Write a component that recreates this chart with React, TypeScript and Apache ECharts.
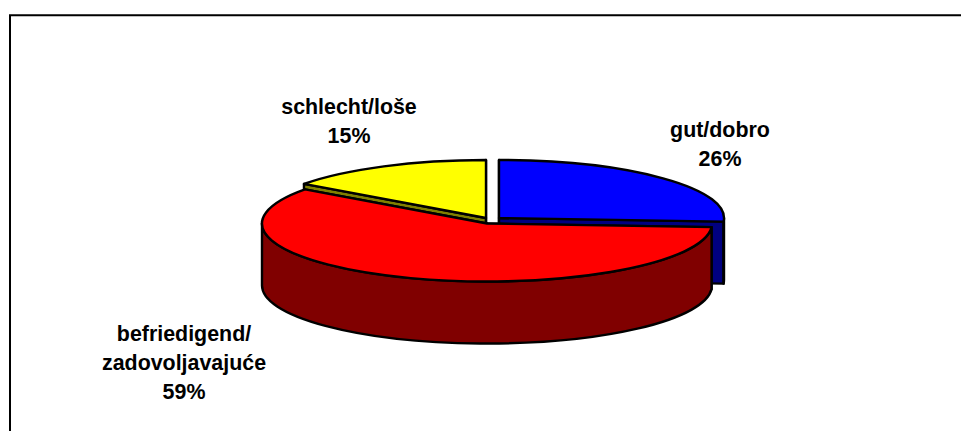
import React, { useEffect, useRef } from "react";
import * as echarts from "echarts";

const categories = ["gut/dobro", "befriedigend/\nzadovoljavajuće", "schlecht/loše"];
const shares = [26, 59, 15];
const topColors = ["#0000ff", "#ff0000", "#ffff00"];
const wallColors = ["#000080", "#800000", "#808000"];

// layout of the projected pie
const RX = 225;
const RY = 58;
const DEPTH = 62;
const CENTERS = [
  [499, 218],
  [487, 223.5],
  [486, 218],
];
const LABEL_POS = [
  [720, 144.5],
  [184, 363],
  [349, 121],
];
const DRAW_ORDER = [0, 2, 1];

function angleStart(idx: number) {
  const total = shares.reduce((a, b) => a + b, 0);
  let s = 0;
  for (let i = 0; i < idx; i++) s += shares[i];
  return (s / total) * Math.PI * 2;
}
const pt = (c: number[], a: number, dy = 0) => [
  c[0] + RX * Math.sin(a),
  c[1] - RY * Math.cos(a) + dy,
];
const f = (n: number) => n.toFixed(2);

function arcPath(c: number[], a0: number, a1: number, dy: number) {
  // clockwise on screen from a0 to a1
  const e = pt(c, a1, dy);
  const large = a1 - a0 > Math.PI ? 1 : 0;
  return `A${RX} ${RY} 0 ${large} 1 ${f(e[0])} ${f(e[1])}`;
}

function slicePaths(idx: number) {
  const c = CENTERS[idx];
  const a0 = angleStart(idx);
  const a1 = a0 + (shares[idx] / shares.reduce((a, b) => a + b, 0)) * Math.PI * 2;
  const s = pt(c, a0);
  const top = `M${f(c[0])} ${f(c[1])}L${f(s[0])} ${f(s[1])}${arcPath(c, a0, a1, 0)}Z`;
  const walls: string[] = [];
  // cut faces
  const cutFace = (a: number) => {
    const p = pt(c, a);
    return `M${f(c[0])} ${f(c[1])}L${f(p[0])} ${f(p[1])}L${f(p[0])} ${f(p[1] + DEPTH)}L${f(c[0])} ${f(c[1] + DEPTH)}Z`;
  };
  walls.push(cutFace(a0));
  walls.push(cutFace(a1));
  // outer wall: visible between angle 90deg and 270deg clockwise from the top
  const v0 = Math.max(a0, Math.PI / 2);
  const v1 = Math.min(a1, (3 * Math.PI) / 2);
  if (v1 > v0) {
    const p0 = pt(c, v0);
    const p1 = pt(c, v1);
    walls.push(
      `M${f(p0[0])} ${f(p0[1])}${arcPath(c, v0, v1, 0)}L${f(p1[0])} ${f(p1[1] + DEPTH)}` +
        `A${RX} ${RY} 0 ${v1 - v0 > Math.PI ? 1 : 0} 0 ${f(p0[0])} ${f(p0[1] + DEPTH)}Z`
    );
  }
  return { top, walls };
}

export default function App() {
  const ref = useRef<HTMLDivElement>(null);
  useEffect(() => {
    const chart = echarts.init(ref.current!, undefined, { renderer: "svg" });
    const stroke = { stroke: "#000", lineWidth: 2.4, lineJoin: "round" };
    chart.setOption({
      animation: false,
      backgroundColor: "#fff",
      graphic: [
        {
          type: "polyline",
          silent: true,
          shape: { points: [[10, 440], [10, 15.3], [970, 15.3]] },
          style: { stroke: "#000", lineWidth: 2, fill: "none" },
        },
      ],
      series: [
        {
          type: "custom",
          coordinateSystem: "none",
          silent: true,
          data: DRAW_ORDER.map((i) => ({ value: shares[i], name: categories[i] })),
          renderItem: (params: any) => {
            const i = DRAW_ORDER[params.dataIndex];
            const { top, walls } = slicePaths(i);
            return {
              type: "group",
              children: [
                ...walls.map((d) => ({
                  type: "path",
                  shape: { pathData: d },
                  style: { fill: wallColors[i], ...stroke },
                })),
                {
                  type: "path",
                  shape: { pathData: top },
                  style: { fill: topColors[i], ...stroke },
                },
              ],
            };
          },
        },
        {
          type: "custom",
          coordinateSystem: "none",
          silent: true,
          z: 5,
          data: categories.map((name, i) => ({ value: shares[i], name })),
          renderItem: (params: any) => {
            const i = params.dataIndex;
            return {
              type: "text",
              x: LABEL_POS[i][0],
              y: LABEL_POS[i][1],
              style: {
                text: `${categories[i]}\n${shares[i]}%`,
                fill: "#000",
                font: 'bold 21.4px "Liberation Sans", Arial, sans-serif',
                lineHeight: 29,
                align: "center",
                verticalAlign: "middle",
              },
            };
          },
        },
      ],
    });
    return () => chart.dispose();
  }, []);
  return <div ref={ref} style={{ position: "fixed", left: 0, top: 0, width: 961, height: 431 }} />;
}
